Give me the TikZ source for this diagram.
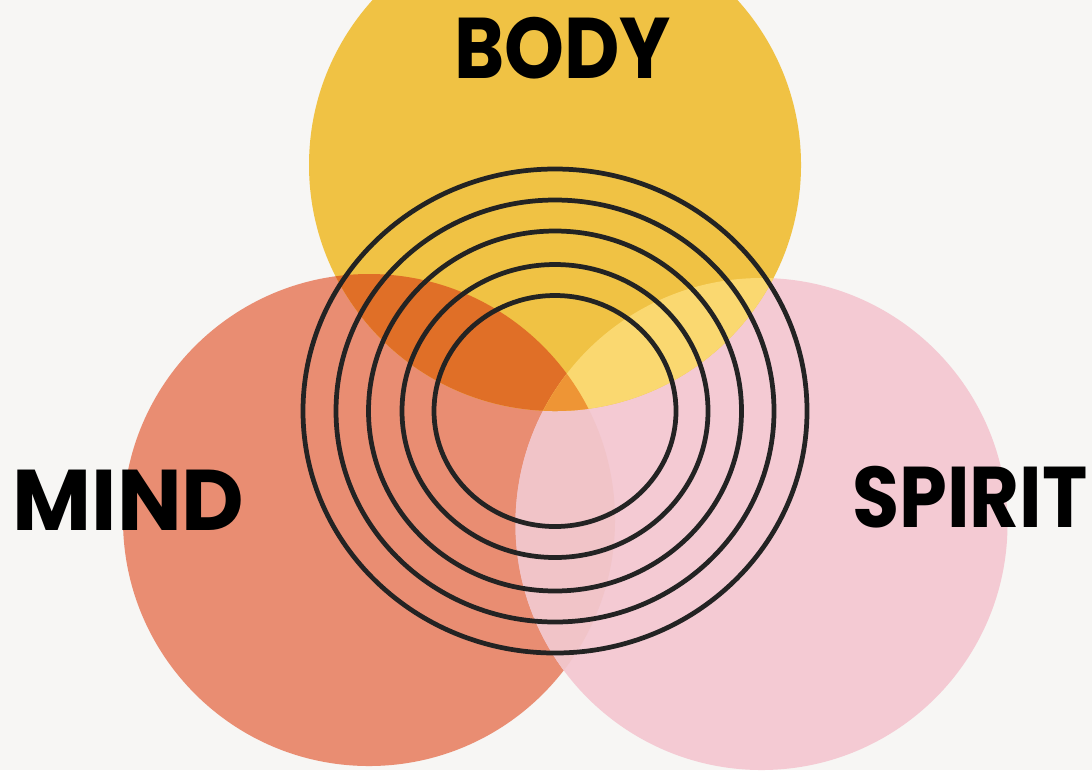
\documentclass[tikz,border=0pt]{standalone}
\usepackage{fontspec}
\setsansfont{Poppins}
\usetikzlibrary{positioning}
\definecolor{paper}{RGB}{247,246,244}
\definecolor{bodyyel}{RGB}{240,194,68}
\definecolor{mindsal}{RGB}{233,141,114}
\definecolor{spiritpk}{RGB}{244,202,211}
\definecolor{mindbody}{RGB}{224,111,39}
\definecolor{bodyspirit}{RGB}{250,216,112}
\definecolor{mindspirit}{RGB}{241,196,200}
\definecolor{allthree}{RGB}{238,149,53}
\definecolor{ringdark}{RGB}{35,35,35}
\tikzset{
  ring/.style={draw=ringdark, line width=1.35pt},
  lbl/.style={font=\sffamily\bfseries\fontsize{24.5}{29}\selectfont,
    text=black, inner sep=0pt}
}
\newcommand{\bodyshape}{(bodyc) circle [radius=2.46]}
\newcommand{\mindshape}{(mindc) circle [radius=2.46]}
\newcommand{\spiritshape}{(spiritc) circle [radius=2.46]}

\begin{document}
\begin{tikzpicture}
  % paper
  \fill[paper] (0,0) rectangle (10.92,-7.70);
  \useasboundingbox (0,0) rectangle (10.92,-7.70);

  \coordinate (bodyc) at (5.55,-1.65);
  \coordinate (mindc) at (3.69,-5.20);
  \coordinate (spiritc) at (7.615,-5.24);
  \coordinate (core) at (5.55,-4.11);

  % the three circles
  \fill[mindsal] \mindshape;
  \fill[spiritpk] \spiritshape;
  \fill[bodyyel] \bodyshape;

  % overlaps
  \begin{scope}
    \clip \mindshape;
    \fill[mindspirit] \spiritshape;
    \fill[mindbody] \bodyshape;
  \end{scope}
  \begin{scope}
    \clip \bodyshape;
    \fill[bodyspirit] \spiritshape;
  \end{scope}
  \begin{scope}
    \clip \mindshape;
    \clip \bodyshape;
    \fill[allthree] \spiritshape;
  \end{scope}

  % rings
  \foreach \rx/\ry in {2.52/2.42, 2.19/2.11, 1.865/1.80, 1.53/1.465, 1.21/1.155}
    \draw[ring] (core) ellipse [x radius=\rx, y radius=\ry];

  % labels
  \node[lbl] (body) at (5.625,-0.48) {\scalebox{0.885}[1]{BODY}};
  \node[lbl] (mind) at (1.285,-5.005) {MIND};
  \node[lbl] (spirit) at (9.70,-4.975) {\scalebox{0.89}[1]{SPIRIT}};
\end{tikzpicture}
\end{document}
